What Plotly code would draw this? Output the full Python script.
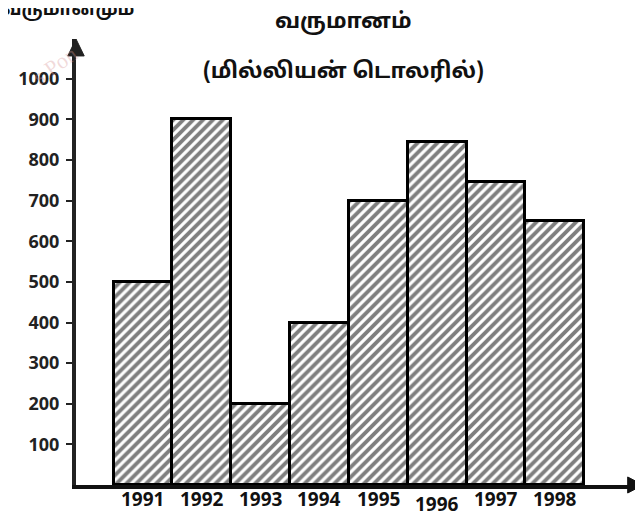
import plotly.graph_objects as go

years = ["1991", "1992", "1993", "1994", "1995", "1996", "1997", "1998"]
revenue = [500, 900, 200, 400, 700, 845, 745, 650]
y_ticks = [100, 200, 300, 400, 500, 600, 700, 800, 900, 1000]

title_main = "வருமானம்"
title_sub = "(மில்லியன் டொலரில்)"
corner_text = "வருமானமும"

x_pos = list(range(len(years)))

fig = go.Figure(go.Bar(
    x=x_pos,
    y=revenue,
    width=1.0,
    marker=dict(
        color="white",
        line=dict(color="black", width=3),
        pattern=dict(shape="/", fgcolor="black", bgcolor="white", size=7, solidity=0.55),
    ),
    hoverinfo="skip",
))

font_num = "Open Sans"
font_ta = "Noto Sans Tamil, Noto Serif Tamil, Lohit Tamil, sans-serif"

annotations = [
    dict(text="<b>" + title_main + "</b>", xref="paper", yref="paper", x=0.472, y=1.036,
         showarrow=False, xanchor="center", yanchor="middle",
         font=dict(family=font_ta, size=22, color="#111")),
    dict(text="<b>" + title_sub + "</b>", xref="paper", yref="paper", x=0.472, y=0.926,
         showarrow=False, xanchor="center", yanchor="middle",
         font=dict(family=font_ta, size=22, color="#111")),
    dict(text="<b>" + corner_text + "</b>", xref="paper", yref="paper", x=-0.015, y=1.065,
         showarrow=False, xanchor="center", yanchor="middle",
         font=dict(family=font_ta, size=18, color="#111")),
    dict(text="s Pon", xref="paper", yref="paper", x=-0.09, y=1.0,
         showarrow=False, textangle=-35,
         font=dict(family="Liberation Serif", size=22, color="rgba(215,150,150,0.35)")),
]
# x category labels (1996 sits a little lower in the original)
for xp, yr in zip(x_pos, years):
    annotations.append(dict(
        text=yr, x=xp, y=0, xref="x", yref="y", showarrow=False,
        xanchor="center", yanchor="middle",
        yshift=-19 if yr == "1996" else -14,
        font=dict(family=font_num, size=19, color="#111", weight="bold"),
    ))

# the page body has an 8px margin, so the figure is drawn 8px right/down
fig.update_layout(
    width=635, height=509,
    margin=dict(l=68, r=0, t=31, b=32, autoexpand=False),
    paper_bgcolor="white", plot_bgcolor="white",
    showlegend=False,
    bargap=0,
    xaxis=dict(
        range=[-1.138, 8.5], automargin=False,
        tickmode="array", tickvals=x_pos, showticklabels=False,
        showgrid=False, zeroline=False,
        showline=True, linecolor="#111", linewidth=4,
        ticks="",
        fixedrange=True,
    ),
    yaxis=dict(
        range=[0, 1098], automargin=False,
        tickmode="array", tickvals=y_ticks,
        showgrid=False, zeroline=False,
        showline=True, linecolor="#222", linewidth=4,
        ticks="outside", ticklen=6, tickwidth=2, tickcolor="#222",
        ticklabelstandoff=3,
        tickfont=dict(family=font_num, size=18, color="#222", weight="bold"),
        fixedrange=True,
    ),
    shapes=[
        dict(type="path", xref="paper", yref="paper",
             path="M 0,1.0 L -0.0145,0.962 L 0.0145,0.962 Z",
             fillcolor="#222", line=dict(color="#222", width=1)),
        dict(type="path", xref="paper", yref="paper",
             path="M 1.0,0 L 0.973,0.018 L 0.973,-0.018 Z",
             fillcolor="#111", line=dict(color="#111", width=1)),
    ],
    annotations=annotations,
)

fig.write_html("out.html")
